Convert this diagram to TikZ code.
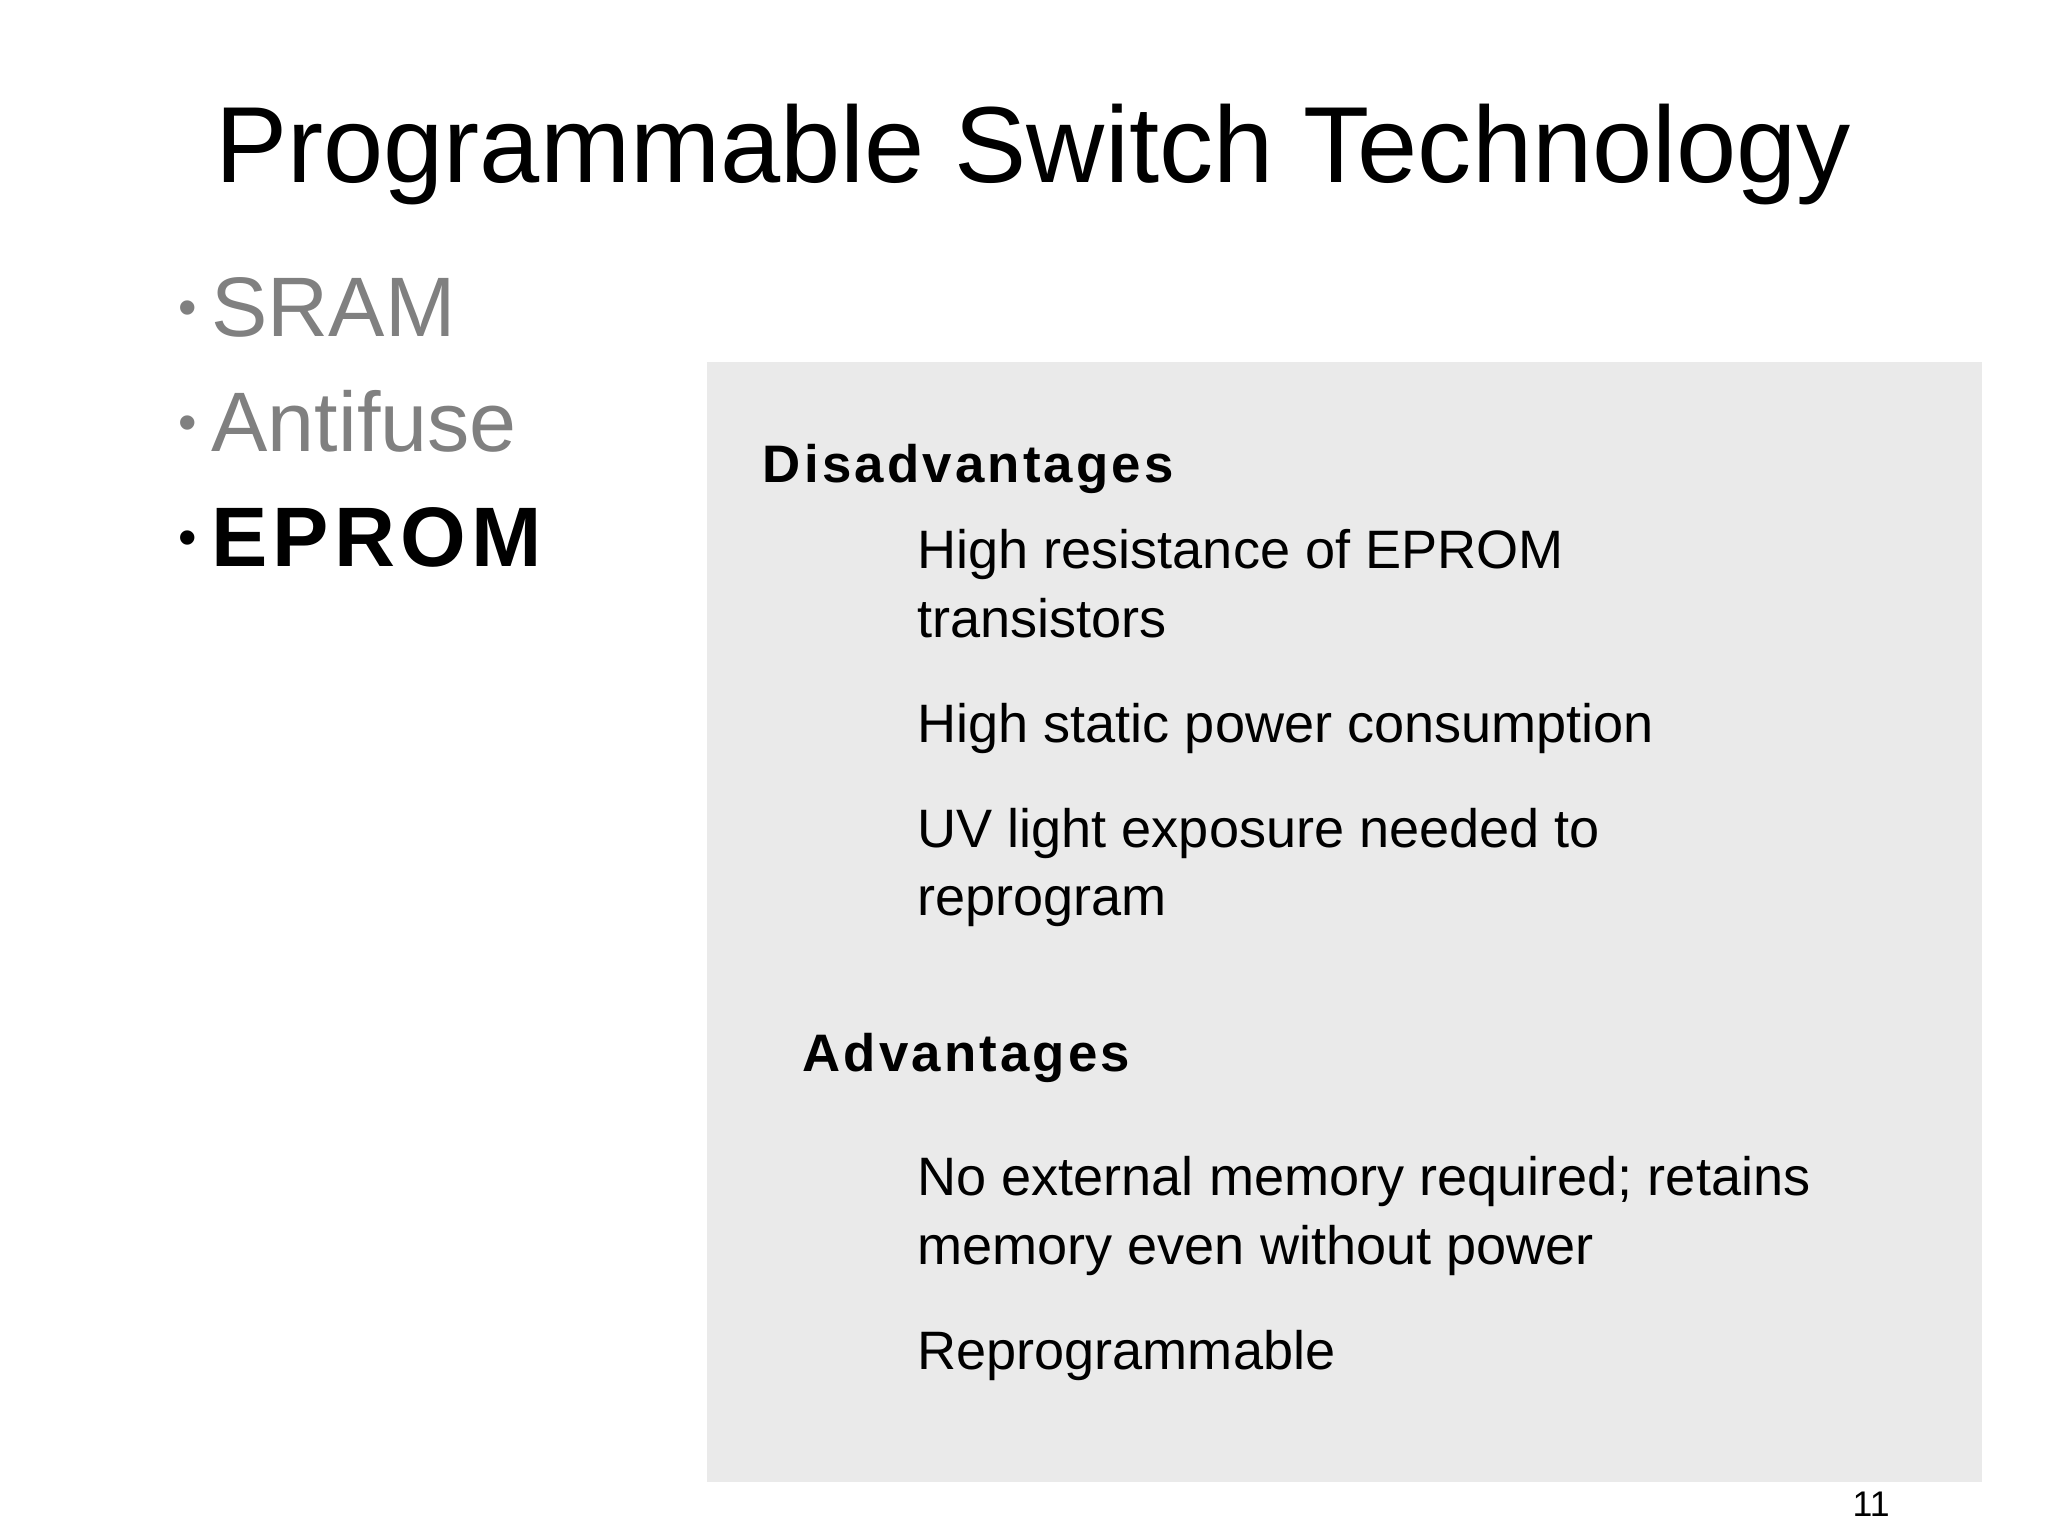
\documentclass[tikz,border=0pt]{standalone}
\usepackage{fontspec}
\setmainfont{Liberation Sans}
\newfontfamily\spacedfont[LetterSpace=6]{Liberation Sans}
\definecolor{boxgray}{HTML}{EAEAEA}
\definecolor{bulgray}{HTML}{808080}
\begin{document}
\begin{tikzpicture}[x=1pt,y=-1pt,
  txt/.style={anchor=base west,inner sep=0pt,font=\fontsize{41}{48}\selectfont},
  hdr/.style={anchor=base west,inner sep=0pt,font=\fontsize{40}{48}\selectfont\spacedfont\bfseries},
  bul/.style={anchor=base west,inner sep=0pt,font=\fontsize{64}{70}\selectfont}]
\useasboundingbox[fill=white] (0,0) rectangle (1552,1164);
\fill[boxgray] (536,274) rectangle (1502,1123);
\node[anchor=base,inner sep=0pt,font=\fontsize{82}{90}\selectfont] (title) at (783,138) {Programmable Switch Technology};
\node[bul,text=bulgray] (b1) at (135,255) {\fontsize{40}{40}\selectfont\raisebox{8pt}{•}\ \fontsize{64}{70}\selectfont SRAM};
\node[bul,text=bulgray] (b2) at (135,342) {\fontsize{40}{40}\selectfont\raisebox{8pt}{•}\ \fontsize{64}{70}\selectfont Antifuse};
\node[bul] (b3) at (135,429) {\fontsize{40}{40}\selectfont\raisebox{8pt}{•}\ \fontsize{64}{70}\selectfont\spacedfont\bfseries EPROM};
\node[hdr] (dis) at (578,366) {Disadvantages};
\node[txt] (d1) at (695,431) {High resistance of EPROM};
\node[txt] (d1b) at (695,483) {transistors};
\node[txt] (d2) at (695,563) {High static power consumption};
\node[txt] (d3) at (695,642) {UV light exposure needed to};
\node[txt] (d3b) at (695,694) {reprogram};
\node[hdr] (adv) at (608,812) {Advantages};
\node[txt] (a1) at (695,906) {No external memory required; retains};
\node[txt] (a1b) at (695,958) {memory even without power};
\node[txt] (a2) at (695,1038) {Reprogrammable};
\node[anchor=base,inner sep=0pt,font=\fontsize{27}{30}\selectfont] (pg) at (1418,1149) {11};
\end{tikzpicture}
\end{document}
